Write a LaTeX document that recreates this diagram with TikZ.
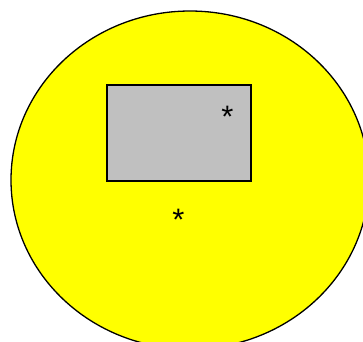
\documentclass[tikz,border=0pt]{standalone}
\usepackage{fontspec}
\setmainfont{Liberation Sans}
\definecolor{ylw}{RGB}{255,255,0}
\definecolor{gry}{RGB}{192,192,192}
\begin{document}
\begin{tikzpicture}[x=1pt,y=-1pt,
  outline/.style={draw=black,line width=1.3pt},
  star/.style={inner sep=0pt,font=\fontsize{31}{33}\selectfont}]
\useasboundingbox (0,0) rectangle (363,341);
\clip (0,0) rectangle (363,341);
\draw[outline,fill=ylw] (190,180) ellipse [x radius=179,y radius=169];
\node[outline,fill=gry,minimum width=144pt,minimum height=96pt,inner sep=0pt] (box) at (179,133) {};
\node[star] (s1) at (227.5,117) {*};
\node[star] (s2) at (178.5,220) {*};
\end{tikzpicture}
\end{document}
